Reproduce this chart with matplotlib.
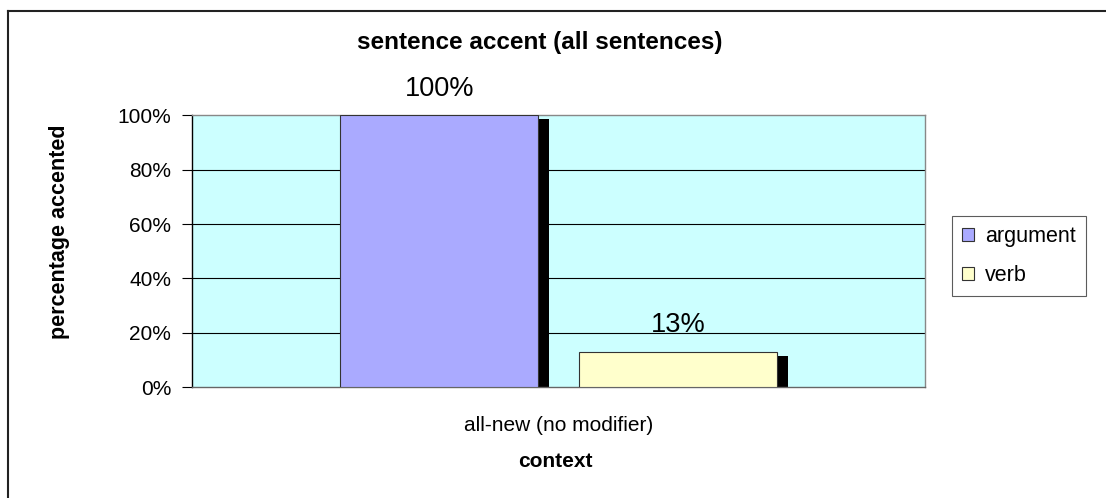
import matplotlib.pyplot as plt
from matplotlib.lines import Line2D
from matplotlib.patches import Patch
from matplotlib.ticker import PercentFormatter

plt.rcParams['font.family'] = ['Liberation Sans', 'DejaVu Sans']

# data
categories = ['all-new (no modifier)']
series = ['argument', 'verb']
values = [100, 13]
value_labels = ['100%', '13%']
yticks = [0, 20, 40, 60, 80, 100]

colors = ['#aaaaff', '#ffffcc']
offsets = [-0.1627, 0.1627]
bar_w = 0.27
shadow_w = 0.015
shadow_drop = 1.4

fig = plt.figure(figsize=(11.06, 4.98), dpi=100)
ax = fig.add_axes([192 / 1106, 1 - 387 / 498, 733 / 1106, 271.5 / 498])
ax.set_facecolor('#ccffff')

for i, (name, val) in enumerate(zip(series, values)):
    x = 0 + offsets[i]
    # dark shadow on the right side of each bar
    ax.bar(x + bar_w / 2, val - shadow_drop, width=shadow_w, align='edge',
           color='black', zorder=2)
    ax.bar(x, val, width=bar_w, color=colors[i], edgecolor='#333333',
           linewidth=0.8, zorder=3, label=name)
    ax.text(x, val + 5, value_labels[i], ha='center', va='bottom', fontsize=19.5)

ax.set_xlim(-0.5, 0.5)
ax.set_ylim(0, 100)
ax.set_yticks(yticks)
ax.yaxis.set_major_formatter(PercentFormatter(decimals=0))
ax.set_xticks([0])
ax.set_xticklabels(categories)
ax.tick_params(axis='y', direction='out', length=7, width=0.8, labelsize=15, pad=8)
ax.tick_params(axis='x', length=0, labelsize=15, pad=21)
for y in yticks[1:-1]:
    ax.axhline(y, color='black', linewidth=0.8, zorder=1)

ax.spines['left'].set_color('black')
ax.spines['bottom'].set_color('#666666')
ax.spines['top'].set_color('#888888')
ax.spines['right'].set_color('#888888')
for s in ax.spines.values():
    s.set_linewidth(1.0)

fig.text(555 / 1106, 1 - 461 / 498, 'context', ha='center', va='center',
         fontsize=15, fontweight='bold')
fig.text(60 / 1106, 1 - 232 / 498, 'percentage accented', rotation=90,
         ha='center', va='center', fontsize=15.5, fontweight='bold',
         family=['Liberation Sans Narrow', 'Liberation Sans'])
fig.text(540 / 1106, 1 - 43 / 498, 'sentence accent (all sentences)',
         ha='center', va='center', fontsize=17.5, fontweight='bold')

handles = [Patch(facecolor=c, edgecolor='#333333', linewidth=0.8) for c in colors]
leg = fig.legend(handles, series, loc='upper left',
                 bbox_to_anchor=(952 / 1106, 1 - 216 / 498), fontsize=15.5,
                 frameon=True, fancybox=False, edgecolor='#333333',
                 handlelength=0.55, handleheight=0.55, handletextpad=0.55,
                 labelspacing=0.85, borderpad=0.45, borderaxespad=0)
leg.get_frame().set_linewidth(0.8)

# outer chart frame (only left and top edges are visible)
fig.add_artist(Line2D([8 / 1106, 8 / 1106], [0, 1 - 11 / 498],
                      color='#222222', linewidth=1.5))
fig.add_artist(Line2D([8 / 1106, 1], [1 - 11 / 498, 1 - 11 / 498],
                      color='#222222', linewidth=1.5))

fig.savefig('out.png', dpi=100)
